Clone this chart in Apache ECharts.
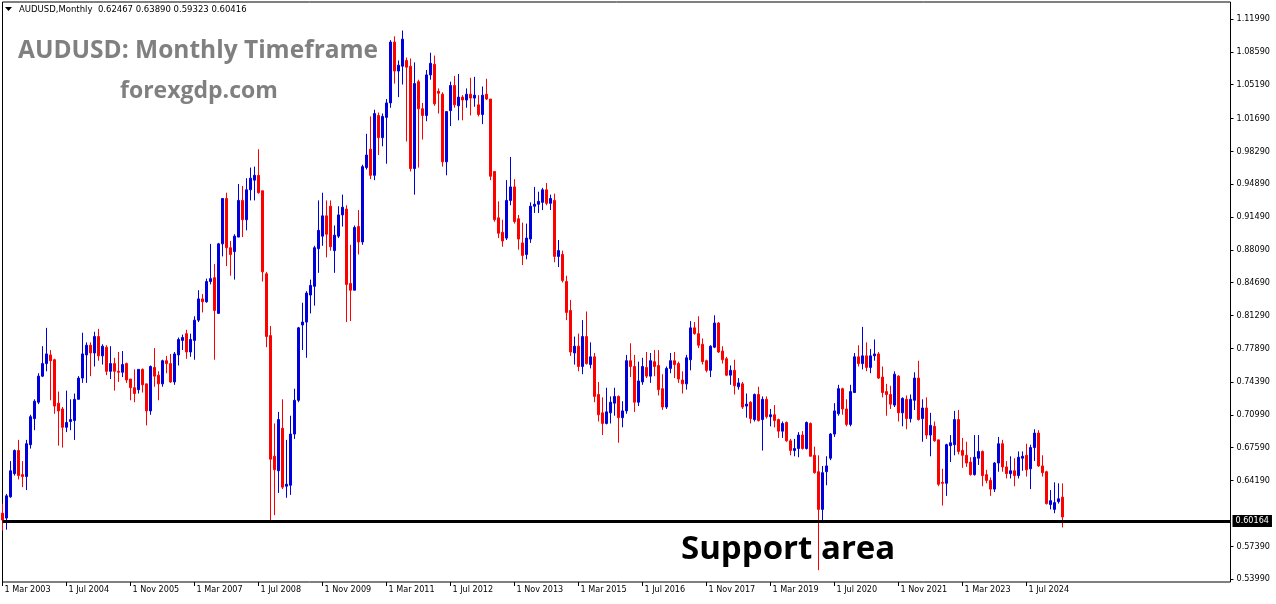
<!DOCTYPE html>
<html><head><meta charset="utf-8">
<script src="https://cdn.jsdelivr.net/npm/echarts@6/dist/echarts.min.js"></script>
<style>html,body{margin:0;padding:0;background:#fff}#chart{width:1276px;height:604px}</style>
</head><body><div id="chart"></div>
<script>
const headerName = 'AUDUSD,Monthly';
const headerQuote = ['0.62467', '0.63890', '0.59323', '0.60416'];
const titleText = 'AUDUSD: Monthly Timeframe';
const siteText = 'forexgdp.com';
const noteText = 'Support area';
const firstYear = 2003;
const firstMonth = 2; // March
const futureSlots = 42;
const monthNames = ['Jan','Feb','Mar','Apr','May','Jun','Jul','Aug','Sep','Oct','Nov','Dec'];
const xLabelEvery = 16;
const yTickValues = [1.1199,1.0859,1.0519,1.0169,0.9829,0.9489,0.9149,0.8809,0.8469,0.8129,0.7789,0.7439,0.7099,0.6759,0.6419,0.5739,0.5399];
const supportLevel = 0.60164;
const bidLevel = 0.60416;
const yMin = 0.53678;
const yMax = 1.13751;

// monthly candles: [open, high, low, close], Mar 2003 .. Apr 2025
const candles = [
[0.608,0.618,0.590,0.601],[0.603,0.628,0.591,0.626],[0.625,0.662,0.624,0.652],[0.649,0.674,0.647,0.673],
[0.673,0.684,0.643,0.647],[0.648,0.662,0.635,0.646],[0.646,0.684,0.632,0.680],[0.679,0.710,0.675,0.708],
[0.706,0.726,0.694,0.724],[0.723,0.753,0.721,0.750],
[0.750,0.781,0.749,0.763],[0.763,0.800,0.755,0.773],[0.772,0.777,0.725,0.766],[0.767,0.768,0.711,0.719],
[0.722,0.734,0.678,0.714],[0.716,0.718,0.676,0.697],[0.697,0.735,0.692,0.702],[0.703,0.726,0.694,0.705],
[0.704,0.732,0.684,0.726],[0.726,0.750,0.726,0.748],[0.748,0.795,0.743,0.773],[0.772,0.785,0.743,0.782],
[0.782,0.785,0.750,0.774],[0.774,0.796,0.760,0.791],[0.791,0.799,0.766,0.771],[0.771,0.783,0.762,0.781],
[0.780,0.782,0.751,0.755],[0.755,0.781,0.747,0.763],[0.763,0.769,0.735,0.755],[0.755,0.775,0.744,0.754],
[0.754,0.776,0.749,0.762],[0.763,0.764,0.743,0.746],[0.747,0.747,0.725,0.738],[0.738,0.757,0.723,0.732],
[0.736,0.757,0.732,0.757],[0.757,0.758,0.733,0.741],[0.742,0.742,0.699,0.714],[0.714,0.761,0.710,0.760],
[0.759,0.779,0.739,0.750],[0.751,0.755,0.725,0.742],[0.742,0.767,0.739,0.766],[0.766,0.771,0.753,0.763],
[0.763,0.773,0.743,0.744],[0.744,0.775,0.741,0.773],[0.772,0.790,0.761,0.788],[0.787,0.793,0.777,0.790],
[0.794,0.798,0.768,0.775],[0.775,0.794,0.770,0.788],[0.787,0.812,0.767,0.808],[0.808,0.839,0.806,0.830],
[0.830,0.835,0.816,0.827],[0.827,0.851,0.826,0.848],[0.848,0.887,0.845,0.851],[0.852,0.866,0.767,0.818],
[0.815,0.888,0.815,0.887],[0.887,0.934,0.874,0.934],[0.934,0.940,0.864,0.883],[0.883,0.890,0.854,0.876],
[0.879,0.897,0.850,0.895],[0.894,0.949,0.894,0.932],[0.932,0.947,0.894,0.912],[0.912,0.955,0.901,0.943],
[0.943,0.966,0.932,0.955],[0.953,0.967,0.932,0.958],[0.958,0.985,0.939,0.940],[0.942,0.942,0.848,0.858],
[0.856,0.858,0.780,0.791],[0.792,0.802,0.601,0.664],[0.667,0.701,0.606,0.653],[0.652,0.713,0.629,0.705],
[0.696,0.726,0.633,0.635],[0.636,0.684,0.624,0.638],[0.637,0.709,0.627,0.690],[0.690,0.737,0.685,0.725],
[0.725,0.801,0.723,0.800],[0.803,0.826,0.777,0.806],[0.806,0.838,0.769,0.836],[0.834,0.850,0.815,0.844],
[0.843,0.885,0.823,0.883],[0.882,0.932,0.857,0.901],[0.895,0.940,0.885,0.916],[0.916,0.932,0.873,0.897],
[0.926,0.932,0.880,0.884],[0.880,0.906,0.857,0.896],[0.895,0.926,0.893,0.917],[0.917,0.938,0.905,0.925],
[0.923,0.927,0.806,0.845],[0.846,0.886,0.807,0.839],[0.839,0.906,0.839,0.904],[0.905,0.922,0.876,0.889],
[0.889,0.969,0.886,0.967],[0.966,1.001,0.964,0.979],[0.985,1.019,0.954,0.958],[0.958,1.026,0.953,1.022],
[1.020,1.023,0.979,0.997],[0.997,1.022,0.988,1.019],[1.018,1.037,0.970,1.033],[1.033,1.098,1.028,1.096],
[1.096,1.102,1.053,1.066],[1.066,1.077,1.039,1.072],[1.071,1.108,1.052,1.099],[1.077,1.080,0.993,1.070],
[1.071,1.079,0.962,0.965],[0.965,1.075,0.938,1.053],[1.055,1.057,0.966,1.027],[1.027,1.033,0.995,1.020],
[1.020,1.067,1.014,1.062],[1.062,1.085,1.057,1.074],[1.073,1.082,1.030,1.032],[1.045,1.048,1.022,1.043],
[1.042,1.044,0.967,0.972],[0.972,1.024,0.958,1.024],[1.025,1.055,1.009,1.051],[1.051,1.061,1.028,1.031],
[1.030,1.063,1.015,1.039],[1.039,1.041,1.015,1.036],[1.036,1.048,1.028,1.042],[1.042,1.059,1.020,1.038],
[1.038,1.060,1.029,1.041],[1.031,1.041,1.019,1.021],[1.021,1.050,1.011,1.041],[1.042,1.058,1.036,1.037],
[1.037,1.037,0.953,0.957],[0.962,0.962,0.910,0.912],[0.914,0.931,0.893,0.898],[0.899,0.912,0.884,0.890],
[0.893,0.953,0.891,0.932],[0.932,0.977,0.927,0.946],[0.946,0.954,0.908,0.910],[0.913,0.917,0.881,0.892],
[0.888,0.909,0.865,0.875],[0.876,0.908,0.871,0.893],[0.892,0.930,0.888,0.926],[0.926,0.946,0.919,0.928],
[0.928,0.941,0.919,0.931],[0.930,0.945,0.922,0.943],[0.943,0.950,0.927,0.929],[0.929,0.938,0.922,0.934],
[0.932,0.939,0.868,0.874],[0.874,0.891,0.863,0.880],[0.876,0.880,0.847,0.849],[0.848,0.854,0.808,0.816],
[0.818,0.829,0.771,0.775],[0.774,0.791,0.762,0.781],[0.781,0.794,0.755,0.760],[0.760,0.808,0.752,0.791],
[0.791,0.817,0.762,0.763],[0.762,0.785,0.758,0.770],[0.770,0.774,0.723,0.729],[0.731,0.744,0.703,0.710],
[0.712,0.728,0.689,0.701],[0.701,0.738,0.700,0.713],[0.712,0.729,0.701,0.723],[0.722,0.738,0.709,0.729],
[0.729,0.730,0.681,0.707],[0.707,0.724,0.697,0.714],[0.714,0.772,0.711,0.766],[0.766,0.784,0.749,0.760],
[0.760,0.772,0.713,0.723],[0.723,0.765,0.719,0.745],[0.744,0.769,0.741,0.760],[0.759,0.775,0.748,0.750],
[0.750,0.774,0.743,0.766],[0.765,0.777,0.750,0.760],[0.761,0.777,0.730,0.736],[0.737,0.752,0.715,0.718],
[0.718,0.760,0.716,0.758],[0.758,0.774,0.753,0.766],[0.766,0.775,0.748,0.762],[0.763,0.765,0.743,0.747],
[0.746,0.755,0.732,0.742],[0.742,0.772,0.736,0.769],[0.767,0.807,0.756,0.800],[0.800,0.806,0.793,0.794],
[0.794,0.812,0.779,0.782],[0.783,0.789,0.762,0.765],[0.766,0.767,0.754,0.756],[0.756,0.782,0.749,0.781],
[0.780,0.813,0.779,0.805],[0.805,0.806,0.774,0.775],[0.776,0.781,0.763,0.767],[0.768,0.770,0.750,0.751],
[0.751,0.761,0.741,0.756],[0.756,0.767,0.731,0.740],[0.739,0.748,0.736,0.743],[0.742,0.744,0.716,0.718],
[0.719,0.732,0.707,0.721],[0.723,0.724,0.701,0.706],[0.705,0.732,0.703,0.731],[0.731,0.739,0.703,0.704],
[0.705,0.729,0.673,0.726],[0.726,0.729,0.706,0.708],[0.708,0.716,0.698,0.710],[0.710,0.720,0.697,0.704],
[0.705,0.706,0.686,0.693],[0.693,0.703,0.686,0.701],[0.702,0.703,0.682,0.683],[0.683,0.685,0.668,0.673],
[0.673,0.685,0.667,0.675],[0.675,0.692,0.666,0.689],[0.689,0.693,0.674,0.675],[0.675,0.703,0.674,0.702],
[0.701,0.702,0.667,0.667],[0.668,0.677,0.649,0.650],[0.651,0.668,0.549,0.612],[0.612,0.657,0.598,0.650],
[0.651,0.667,0.637,0.657],[0.665,0.691,0.663,0.690],[0.690,0.722,0.687,0.714],[0.711,0.741,0.709,0.737],
[0.737,0.738,0.710,0.716],[0.716,0.726,0.698,0.700],[0.700,0.741,0.698,0.734],[0.733,0.774,0.733,0.770],
[0.770,0.782,0.760,0.763],[0.763,0.801,0.757,0.771],[0.771,0.785,0.755,0.759],[0.759,0.778,0.753,0.771],
[0.771,0.788,0.766,0.773],[0.773,0.775,0.747,0.748],[0.749,0.760,0.728,0.733],[0.734,0.742,0.709,0.731],
[0.731,0.740,0.716,0.721],[0.720,0.755,0.718,0.752],[0.750,0.751,0.703,0.712],[0.712,0.728,0.698,0.727],
[0.726,0.730,0.695,0.706],[0.706,0.731,0.702,0.726],[0.725,0.754,0.715,0.748],[0.748,0.766,0.704,0.705],
[0.706,0.726,0.682,0.717],[0.717,0.728,0.685,0.689],[0.689,0.712,0.667,0.699],[0.698,0.703,0.682,0.683],
[0.684,0.684,0.636,0.638],[0.640,0.654,0.616,0.639],[0.639,0.680,0.626,0.679],[0.678,0.689,0.661,0.681],
[0.679,0.714,0.668,0.705],[0.705,0.715,0.669,0.672],[0.673,0.686,0.655,0.668],[0.668,0.682,0.656,0.660],
[0.661,0.666,0.647,0.648],[0.648,0.689,0.647,0.666],[0.665,0.689,0.658,0.672],[0.672,0.673,0.636,0.647],
[0.648,0.653,0.639,0.642],[0.642,0.645,0.626,0.633],[0.633,0.661,0.630,0.660],[0.660,0.687,0.651,0.680],
[0.680,0.684,0.651,0.656],[0.656,0.662,0.644,0.649],[0.649,0.667,0.644,0.652],[0.652,0.665,0.636,0.647],
[0.647,0.672,0.644,0.666],[0.665,0.672,0.652,0.667],[0.668,0.680,0.646,0.653],[0.654,0.679,0.633,0.676],
[0.676,0.695,0.662,0.691],[0.691,0.694,0.656,0.657],[0.657,0.668,0.646,0.650],[0.651,0.652,0.617,0.618],
[0.617,0.632,0.612,0.621],[0.612,0.640,0.608,0.619],[0.620,0.639,0.618,0.623],[0.62467,0.63890,0.59323,0.60416]
];

const categories = [];
for (let k = 0; k < candles.length + futureSlots; k++) {
  const m = firstMonth + k;
  categories.push('1 ' + monthNames[m % 12] + ' ' + (firstYear + Math.floor(m / 12)));
}
const seriesData = candles.map(c => [c[0], c[3], c[2], c[1]]);
const showXLabel = (idx) => idx % xLabelEvery === 0 && idx < candles.length;

const chart = echarts.init(document.getElementById('chart'), null, {renderer: 'canvas'});
const axisFont = '"DejaVu Sans Condensed", "DejaVu Sans", sans-serif';
chart.setOption({
  animation: false,
  backgroundColor: '#ffffff',
  grid: {left: 2.5, right: 45.5, top: 2, bottom: 22, show: true, borderColor: '#000', borderWidth: 1, backgroundColor: '#fff'},
  xAxis: {
    type: 'category', data: categories, boundaryGap: false,
    axisLine: {show: false},
    axisTick: {show: true, interval: showXLabel, length: 4, lineStyle: {color: '#000'}},
    axisLabel: {interval: showXLabel, align: 'left', padding: [0, 0, 0, 2], margin: 3,
      fontFamily: axisFont, fontSize: 9, color: '#000', hideOverlap: false},
    splitLine: {show: false}
  },
  yAxis: {
    type: 'value', position: 'right', min: yMin, max: yMax, scale: true,
    axisLine: {show: false},
    splitLine: {show: false},
    axisTick: {show: true, customValues: yTickValues, length: 3, lineStyle: {color: '#000'}},
    axisLabel: {customValues: yTickValues, formatter: v => v.toFixed(5), margin: 6,
      fontFamily: axisFont, fontSize: 9, color: '#000'}
  },
  series: [{
    type: 'candlestick', data: seriesData, barWidth: 2,
    itemStyle: {color: '#0000dd', borderColor: '#0000dd', color0: '#ff0000', borderColor0: '#ff0000', borderWidth: 1},
    markLine: {
      silent: true, symbol: 'none', animation: false,
      data: [
        {yAxis: bidLevel, lineStyle: {color: '#8494a6', width: 1, type: 'solid'}, label: {show: false}},
        {yAxis: supportLevel, lineStyle: {color: '#000', width: 3, type: 'solid'},
         label: {show: true, position: 'end', distance: 2, formatter: supportLevel.toFixed(5),
           backgroundColor: '#000', color: '#fff', padding: [2, 3, 1, 3], fontFamily: axisFont, fontSize: 9}}
      ]
    }
  }],
  graphic: [
    {type: 'polygon', shape: {points: [[5, 7], [12, 7], [8.5, 11]]}, style: {fill: '#000'}},
    {type: 'text', x: 19, y: 10, style: {text: headerName + '  ' + headerQuote.join(' '), font: '8.5px "DejaVu Sans"', fill: '#000', verticalAlign: 'middle'}},
    {type: 'text', x: 18, y: 51, style: {text: titleText, font: 'bold 24.5px "Open Sans"', fill: '#808080', verticalAlign: 'middle'}},
    {type: 'text', x: 120, y: 91, style: {text: siteText, font: 'bold 23px "Open Sans"', fill: '#808080', verticalAlign: 'middle'}},
    {type: 'text', x: 681, y: 550, style: {text: noteText, font: 'bold 33px "Open Sans"', fill: '#000', verticalAlign: 'middle'}}
  ]
});
</script></body></html>
